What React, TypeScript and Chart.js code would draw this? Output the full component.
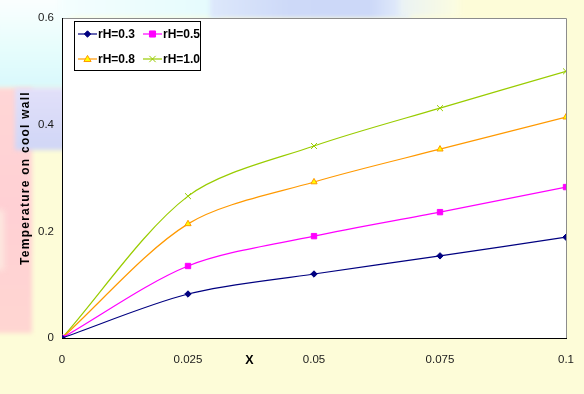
import React, { useEffect, useRef } from "react";
import { Chart, registerables } from "chart.js";

Chart.register(...registerables);

// x positions along the wall
const xValues = [0, 0.025, 0.05, 0.075, 0.1];

// temperature on the cool wall for each rH
const rH03 = [0, 0.0825, 0.12, 0.154, 0.189];
const rH05 = [0, 0.135, 0.191, 0.236, 0.283];
const rH08 = [0, 0.214, 0.2925, 0.354, 0.414];
const rH10 = [0, 0.266, 0.36, 0.431, 0.5];

const seriesLabels = ["rH=0.3", "rH=0.5", "rH=0.8", "rH=1.0"];
const xTicks = [0, 0.025, 0.05, 0.075, 0.1];
const yTicks = [0, 0.2, 0.4, 0.6];
const yTitle = "Temperature on cool wall";
const xTitle = "X";

const FONT = "'Liberation Sans', Arial, sans-serif";

const toPoints = (ys: number[]) => xValues.map((x, i) => ({ x, y: ys[i] }));

// white plot area with thin grey frame on top/right
const plotAreaPlugin = {
  id: "plotArea",
  beforeDraw(chart: any) {
    const { ctx, chartArea: a } = chart;
    ctx.save();
    ctx.fillStyle = "#ffffff";
    ctx.fillRect(a.left, a.top, a.right - a.left, a.bottom - a.top);
    ctx.strokeStyle = "#8c8c8c";
    ctx.lineWidth = 1;
    ctx.beginPath();
    ctx.moveTo(a.left, a.top + 0.5);
    ctx.lineTo(a.right + 0.5, a.top + 0.5);
    ctx.lineTo(a.right + 0.5, a.bottom);
    ctx.stroke();
    ctx.restore();
  },
};

function drawMarker(ctx: CanvasRenderingContext2D, style: string, x: number, y: number, r: number, fill: string, stroke: string) {
  ctx.save();
  ctx.fillStyle = fill;
  ctx.strokeStyle = stroke;
  ctx.lineWidth = 1;
  ctx.beginPath();
  if (style === "rectRot") {
    ctx.moveTo(x, y - r);
    ctx.lineTo(x + r, y);
    ctx.lineTo(x, y + r);
    ctx.lineTo(x - r, y);
    ctx.closePath();
    ctx.fill();
    ctx.stroke();
  } else if (style === "rect") {
    ctx.rect(x - r * 0.8, y - r * 0.8, r * 1.6, r * 1.6);
    ctx.fill();
    ctx.stroke();
  } else if (style === "triangle") {
    ctx.moveTo(x, y - r);
    ctx.lineTo(x + r, y + r * 0.7);
    ctx.lineTo(x - r, y + r * 0.7);
    ctx.closePath();
    ctx.fill();
    ctx.stroke();
  } else {
    const d = r * 0.75;
    ctx.moveTo(x - d, y - d);
    ctx.lineTo(x + d, y + d);
    ctx.moveTo(x + d, y - d);
    ctx.lineTo(x - d, y + d);
    ctx.stroke();
  }
  ctx.restore();
}

// boxed two-column legend inside the plot area
const boxLegendPlugin = {
  id: "boxLegend",
  afterDraw(chart: any) {
    const { ctx, chartArea: a } = chart;
    const left = a.left + 12;
    const top = a.top + 3;
    const w = 126;
    const h = 49;
    ctx.save();
    ctx.fillStyle = "#ffffff";
    ctx.fillRect(left, top, w, h);
    ctx.strokeStyle = "#000000";
    ctx.lineWidth = 1;
    ctx.strokeRect(left + 0.5, top + 0.5, w, h);
    ctx.font = `bold 12px ${FONT}`;
    ctx.textBaseline = "middle";
    chart.data.datasets.forEach((ds: any, i: number) => {
      const col = i % 2;
      const row = Math.floor(i / 2);
      const x0 = left + 4 + col * 65;
      const y = top + 13 + row * 25;
      ctx.strokeStyle = ds.borderColor;
      ctx.lineWidth = 1.2;
      ctx.beginPath();
      ctx.moveTo(x0, y);
      ctx.lineTo(x0 + 19, y);
      ctx.stroke();
      drawMarker(ctx, ds.pointStyle, x0 + 9.5, y, ds.pointRadius, ds.pointBackgroundColor, ds.pointBorderColor);
      ctx.fillStyle = "#000000";
      ctx.fillText(ds.label, x0 + 20, y + 0.5);
    });
    ctx.restore();
  },
};

// axis captions: spaced vertical y title and the bold "X" below the axis
const captionPlugin = {
  id: "captions",
  afterDraw(chart: any) {
    const { ctx, chartArea: a } = chart;
    const xs = chart.scales.x;
    ctx.save();
    ctx.fillStyle = "#000000";
    ctx.textAlign = "center";
    ctx.textBaseline = "middle";

    ctx.font = `bold 12.5px ${FONT}`;
    ctx.fillText(xTitle, xs.getPixelForValue(0.0372), a.bottom + 23);

    ctx.translate(a.left - 36, (a.top + a.bottom) / 2);
    ctx.rotate(-Math.PI / 2);
    ctx.font = `bold 12px ${FONT}`;
    (ctx as any).letterSpacing = "1.25px";
    ctx.fillText(yTitle, 0, 0);
    ctx.restore();
  },
};

export default function App() {
  const ref = useRef<HTMLCanvasElement | null>(null);

  useEffect(() => {
    if (!ref.current) return;
    const mk = (label: string, ys: number[], color: string, style: string, r: number, fill: string) => ({
      label,
      data: toPoints(ys),
      borderColor: color,
      backgroundColor: color,
      borderWidth: 1.2,
      pointStyle: style,
      pointRadius: r,
      pointHoverRadius: r,
      pointBackgroundColor: fill,
      pointBorderColor: color,
      pointBorderWidth: 1,
      tension: 0.3,
      fill: false,
    });
    const chart = new Chart(ref.current, {
      type: "line",
      data: {
        datasets: [
          mk(seriesLabels[0], rH03, "#000080", "rectRot", 3.2, "#000080"),
          mk(seriesLabels[1], rH05, "#ff00ff", "rect", 3.8, "#ff00ff"),
          mk(seriesLabels[2], rH08, "#ff9900", "triangle", 3.6, "#ffff00"),
          mk(seriesLabels[3], rH10, "#99cc00", "crossRot", 4.2, "#99cc00"),
        ],
      },
      options: {
        animation: false,
        responsive: false,
        layout: { padding: { top: 18, right: 18, left: 0, bottom: 0 } },
        plugins: { legend: { display: false }, tooltip: { enabled: false } },
        scales: {
          x: {
            type: "linear",
            min: 0,
            max: 0.1,
            afterBuildTicks: (s: any) => {
              s.ticks = xTicks.map((v) => ({ value: v }));
            },
            afterFit: (s: any) => {
              s.height = 56;
            },
            grid: { display: false, drawTicks: true, tickLength: 5, color: "#000" },
            border: { display: true, color: "#000", width: 1 },
            ticks: {
              color: "#1a1a1a",
              font: { family: FONT, size: 11.5 },
              padding: 10,
              maxRotation: 0,
              callback: (v: any) => String(Number(v)),
            },
          },
          y: {
            min: 0,
            max: 0.6,
            afterBuildTicks: (s: any) => {
              s.ticks = yTicks.map((v) => ({ value: v }));
            },
            afterFit: (s: any) => {
              s.width = 62;
            },
            grid: { display: false, drawTicks: true, tickLength: 5, color: "#000" },
            border: { display: true, color: "#000", width: 1 },
            ticks: {
              color: "#1a1a1a",
              font: { family: FONT, size: 11.5 },
              padding: 3,
              callback: (v: any) => String(Number(v)),
            },
          },
        },
      },
      plugins: [plotAreaPlugin, boxLegendPlugin, captionPlugin],
    } as any);
    return () => chart.destroy();
  }, []);

  const blob = (l: number, t: number, w: number, h: number, bg: string, blur = 3) => (
    <div
      style={{
        position: "absolute",
        left: l,
        top: t,
        width: w,
        height: h,
        background: bg,
        filter: `blur(${blur}px)`,
      }}
    />
  );

  return (
    <div
      style={{
        position: "fixed",
        left: 0,
        top: 0,
        width: 584,
        height: 394,
        overflow: "hidden",
        background: "#fdfcd8",
      }}
    >
      {blob(-10, -10, 80, 100, "linear-gradient(180deg, #ffffff 0%, #e6fdfc 60%, #d8f8fc 100%)", 4)}
      {blob(60, -10, 160, 28, "linear-gradient(90deg, #f4fefe 0%, #e4fbfd 100%)", 3)}
      {blob(210, -10, 200, 28, "linear-gradient(90deg, #dde8fb 0%, #cdd9f8 40%, #ccd8f8 80%, #e8f1fb 100%)", 2)}
      {blob(400, -10, 60, 27, "linear-gradient(90deg, #eaf2f4 0%, #fcfde0 100%)", 3)}
      {blob(-10, 88, 42, 245, "linear-gradient(180deg, #ffd6d6 0%, #ffd0d4 50%, #ffd6d2 100%)", 2)}
      {blob(15, 88, 50, 62, "linear-gradient(180deg, #e2e0fa 0%, #d0d6f6 100%)", 2)}
      {blob(-10, 210, 14, 60, "#fde8e0", 3)}
      <canvas ref={ref} width={584} height={394} style={{ position: "absolute", left: 0, top: 0 }} />
    </div>
  );
}
